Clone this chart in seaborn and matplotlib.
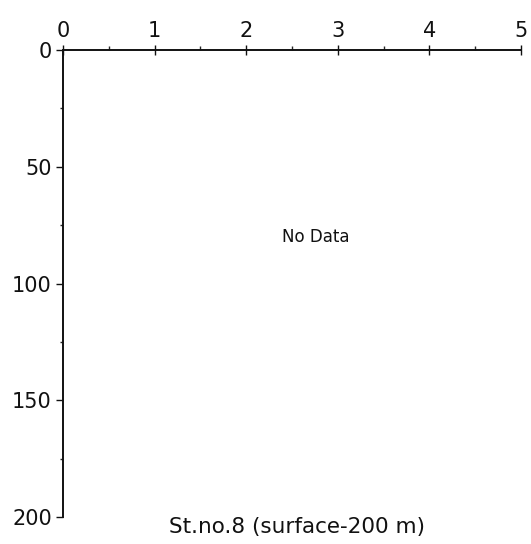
import numpy as np
import pandas as pd
import seaborn as sns
import matplotlib.pyplot as plt
from matplotlib.ticker import MultipleLocator

# no observations at this station
value = []
depth = []
x_ticks = [0, 1, 2, 3, 4, 5]
y_ticks = [0, 50, 100, 150, 200]
station = "St.no.8 (surface-200 m)"
note = "No Data"

sns.set_style("ticks")
plt.rcParams['font.family'] = ['DejaVu Sans']

fig = plt.figure(figsize=(5.31, 5.44), dpi=100)
ax = fig.add_axes([63/531, 1-517/544, 458/531, 467/544])

df = pd.DataFrame({"value": pd.Series(value, dtype=float), "depth": pd.Series(depth, dtype=float)})
sns.lineplot(data=df, x="value", y="depth", ax=ax, sort=False, color="black")

ax.set_xlim(0, 5)
ax.set_ylim(200, 0)
ax.set_xticks(x_ticks)
ax.set_yticks(y_ticks)
ax.xaxis.set_minor_locator(MultipleLocator(0.5))
ax.yaxis.set_minor_locator(MultipleLocator(25))
ax.xaxis.tick_top()
ax.set_xlabel("")
ax.set_ylabel("")

for s in ["right", "bottom"]:
    ax.spines[s].set_visible(False)
for s in ["left", "top"]:
    ax.spines[s].set_linewidth(1.4)
    ax.spines[s].set_color("#111111")

ax.tick_params(axis="x", which="major", direction="inout", length=7, width=1, pad=3,
               labelsize=15, colors="#111111", top=True, bottom=False)
ax.tick_params(axis="x", which="minor", direction="out", length=3, width=1, top=True, bottom=False)
ax.tick_params(axis="y", which="major", direction="out", length=5, width=1, pad=3,
               labelsize=15, colors="#111111")
ax.tick_params(axis="y", which="minor", direction="out", length=2.5, width=1)

ax.text((316-63)/458, 1-(237-50)/467, note, transform=ax.transAxes,
        ha="center", va="center", fontsize=12, color="#111111")
fig.text(297/531, 1-527/544, station, ha="center", va="center", fontsize=15.5, color="#111111")

fig.savefig("out.png", dpi=100)
